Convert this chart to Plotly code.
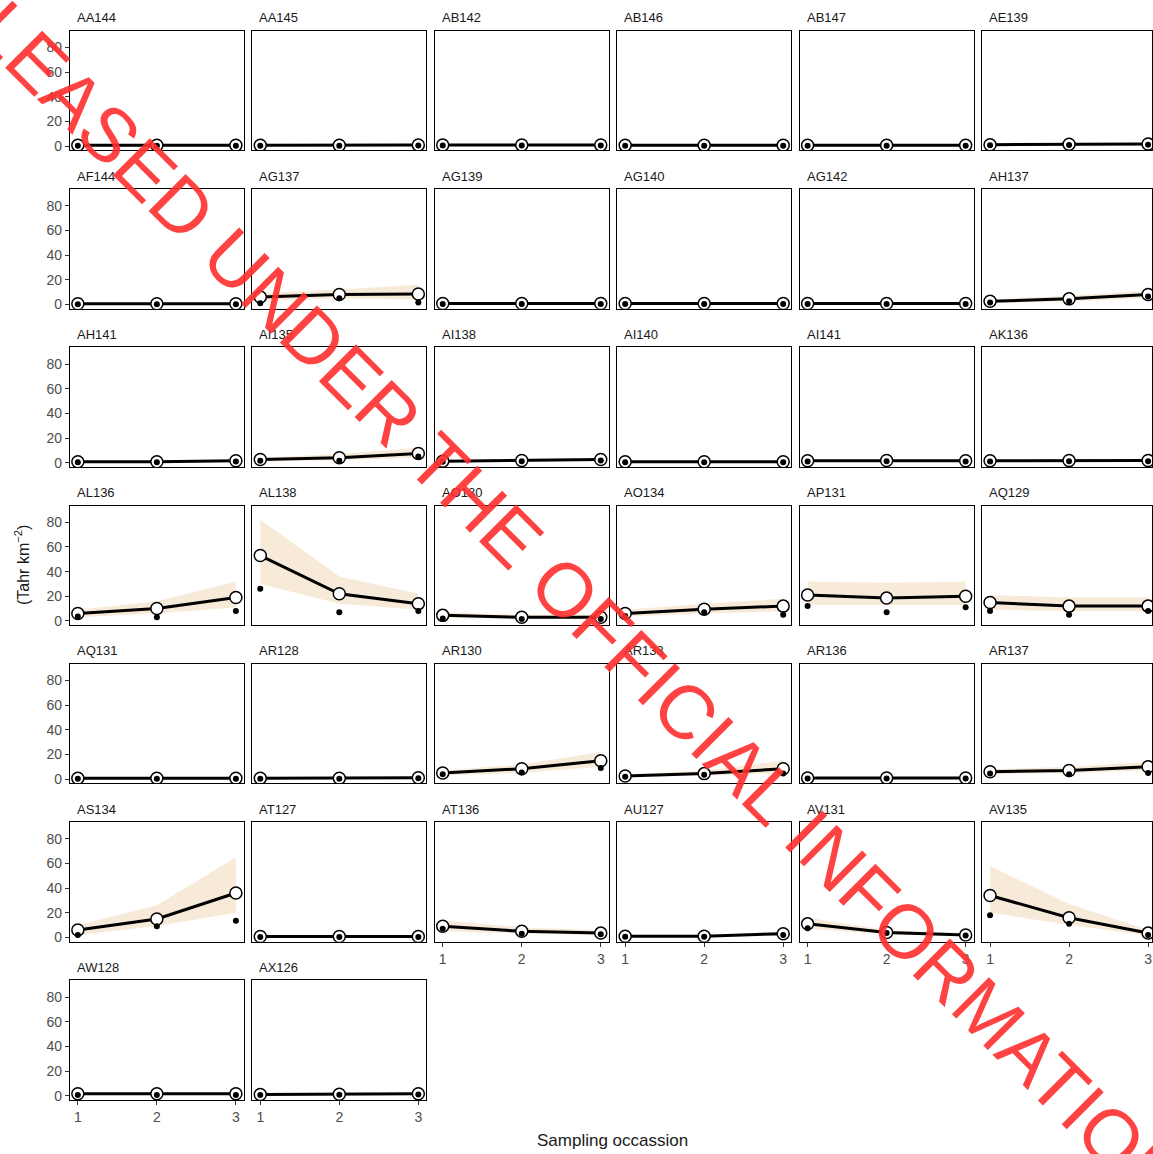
import plotly.graph_objects as go

# ---------------- data ----------------
SITES = ["AA144", "AA145", "AB142", "AB146", "AB147", "AE139",
         "AF144", "AG137", "AG139", "AG140", "AG142", "AH137",
         "AH141", "AI135", "AI138", "AI140", "AI141", "AK136",
         "AL136", "AL138", "AO130", "AO134", "AP131", "AQ129",
         "AQ131", "AR128", "AR130", "AR133", "AR136", "AR137",
         "AS134", "AT127", "AT136", "AU127", "AV131", "AV135",
         "AW128", "AX126"]

OCCASIONS = [1, 2, 3]

# estimated density (open circles)
EST = [[0.8, 0.8, 0.8], [0.8, 0.8, 1.0], [1.0, 1.0, 1.0], [0.8, 0.8, 0.8], [0.8, 0.8, 0.8], [1.2, 1.5, 1.8],
       [0.5, 0.5, 0.5], [6, 8, 8.5], [0.8, 0.8, 0.8], [0.8, 0.8, 0.8], [0.8, 0.8, 0.8], [2.5, 4.5, 8],
       [0.8, 0.8, 1.5], [2.5, 4, 7.5], [1.2, 1.8, 2.5], [0.8, 0.8, 0.8], [1.5, 1.8, 1.5], [1.5, 1.8, 1.8],
       [6, 10, 19], [53, 22, 14], [4.5, 3, 3], [6, 9.5, 12], [21, 18.5, 20], [15, 12, 12],
       [0.8, 0.8, 0.8], [0.8, 0.8, 1.2], [5, 8.5, 15], [2.5, 4.5, 8.5], [1, 1, 1], [6, 7, 10],
       [6, 15, 36], [0.8, 0.8, 0.8], [9, 5, 3.5], [1, 1, 3], [11, 4, 2], [34, 16, 3.5],
       [1.5, 1.5, 1.5], [1, 1.2, 1.5]]

# observed counts (small black dots)
OBS = [[0.3, 0.3, 0.3], [0.3, 0.3, 0.5], [0.5, 0.5, 0.5], [0.3, 0.3, 0.3], [0.3, 0.3, 0.3], [0.8, 1, 1.2],
       [0.2, 0.2, 0.2], [1, 5, 1.5], [0.3, 0.3, 0.3], [0.3, 0.3, 0.3], [0.3, 0.3, 0.3], [1.5, 2.5, 6.5],
       [0.4, 0.4, 1], [1.5, 1.5, 5], [0.8, 1.2, 1.8], [0.3, 0.3, 0.3], [1, 1.2, 1], [1, 1.2, 1.2],
       [3.5, 3, 8], [26, 7, 8], [2, 1.5, 1.5], [4, 7, 5], [12, 7, 11], [8, 5, 8],
       [0.3, 0.3, 0.3], [0.4, 0.4, 0.8], [4, 5.5, 9], [2, 3.5, 4.5], [0.5, 0.5, 0.5], [4.5, 4, 5],
       [2, 9, 13.5], [0.3, 0.3, 0.3], [7, 3, 2.5], [0.5, 0.5, 2], [7.5, 3.5, 1.5], [18, 11, 2],
       [0.5, 0.5, 0.5], [0.6, 0.8, 1]]

# credible interval (shaded band)
LO = [[0.2, 0.2, 0.2], [0.2, 0.2, 0.4], [0.4, 0.4, 0.4], [0.2, 0.2, 0.2], [0.2, 0.2, 0.2], [0.6, 0.8, 1.0],
      [0.1, 0.1, 0.1], [3, 5, 4], [0.2, 0.2, 0.2], [0.2, 0.2, 0.2], [0.2, 0.2, 0.2], [1, 2.5, 5],
      [0.3, 0.3, 0.8], [1, 2, 4], [0.6, 1, 1.5], [0.2, 0.2, 0.2], [0.8, 1, 0.8], [0.8, 1, 1],
      [3, 6, 11], [30, 14, 9], [2.5, 1.5, 1.5], [3.5, 6, 8], [13, 13, 13], [9, 8, 8],
      [0.2, 0.2, 0.2], [0.3, 0.3, 0.6], [3, 5, 10], [1.5, 3, 5], [0.5, 0.5, 0.5], [4, 5, 7],
      [2, 9, 20], [0.2, 0.2, 0.2], [5, 3, 2], [0.5, 0.5, 1.5], [7, 2.5, 1], [20, 10, 1.5],
      [0.8, 0.8, 0.8], [0.5, 0.6, 0.8]]
HI = [[1.5, 1.5, 1.5], [1.5, 1.5, 2], [2, 2, 2], [1.5, 1.5, 1.5], [1.5, 1.5, 1.5], [2.2, 2.6, 3],
      [1.0, 1.0, 1.0], [9, 12, 16], [1.5, 1.5, 1.5], [1.5, 1.5, 1.5], [1.5, 1.5, 1.5], [4, 7, 11],
      [1.5, 1.5, 2.5], [4, 7, 12], [2, 3, 4], [1.5, 1.5, 1.5], [2.5, 3, 2.5], [2.5, 3, 3],
      [9, 16, 32], [82, 36, 22], [7, 5, 5], [9, 14, 18], [32, 31, 32], [21, 19, 19],
      [1.5, 1.5, 1.5], [1.5, 1.5, 2], [7, 12, 22], [4, 7, 15], [2, 2, 2], [8, 10, 14],
      [10, 26, 65], [1.5, 1.5, 1.5], [14, 8, 6], [2, 2, 5], [16, 6, 3.5], [58, 27, 6],
      [2.5, 2.5, 2.5], [2, 2.2, 2.5]]

Y_TICKS = [0, 20, 40, 60, 80]
X_TICKS = [1, 2, 3]

X_TITLE = "Sampling occassion"
Y_TITLE = "(Tahr km<sup>\u22122</sup>)"
WATERMARK = "RELEASED UNDER THE OFFICIAL INFORMATION ACT"

# ---------------- layout geometry ----------------
W, H = 1153, 1154
NCOL = 6
PANEL_W = 174
PANEL_H = 120
COL_LEFT = [70 + i * 182.6 for i in range(NCOL)]
ROW_TOP = [31 + r * 158.8 for r in range(7)]
Y_RANGE = [-3.5, 93.5]
PX_PER_UNIT = PANEL_W / 2.2

FONT = "Liberation Sans, Arial, sans-serif"
BAND = "rgba(236,196,150,0.36)"

fig = go.Figure()

last_row = {}
for k in range(len(SITES)):
    r, c = divmod(k, NCOL)
    last_row[c] = r

annotations = []
for k, site in enumerate(SITES):
    r, c = divmod(k, NCOL)
    suf = "" if k == 0 else str(k + 1)
    xa, ya = "x" + suf, "y" + suf

    x0 = COL_LEFT[c]
    x1 = min(x0 + PANEL_W, W)
    top = ROW_TOP[r]

    fig.add_trace(go.Scatter(
        x=OCCASIONS + OCCASIONS[::-1], y=HI[k] + LO[k][::-1],
        fill="toself", fillcolor=BAND, line=dict(width=0), mode="lines",
        xaxis=xa, yaxis=ya, hoverinfo="skip", showlegend=False))
    fig.add_trace(go.Scatter(
        x=OCCASIONS, y=EST[k], mode="lines+markers",
        line=dict(color="black", width=3),
        marker=dict(size=12, color="white", line=dict(color="black", width=1.5)),
        xaxis=xa, yaxis=ya, showlegend=False))
    fig.add_trace(go.Scatter(
        x=OCCASIONS, y=OBS[k], mode="markers",
        marker=dict(size=6, color="black"),
        xaxis=xa, yaxis=ya, showlegend=False))

    is_bottom = (r == last_row[c])
    fig.layout["xaxis" + suf] = dict(
        domain=[x0 / W, x1 / W], range=[0.9, 0.9 + (x1 - x0) / PX_PER_UNIT],
        anchor=ya, showline=True, mirror=True, linecolor="black", linewidth=1.3,
        showgrid=False, zeroline=False, tickvals=X_TICKS,
        showticklabels=is_bottom, ticks="outside" if is_bottom else "",
        ticklen=4, tickcolor="#333333",
        tickfont=dict(size=14, color="#4d4d4d", family=FONT))
    fig.layout["yaxis" + suf] = dict(
        domain=[1 - (top + PANEL_H) / H, 1 - top / H], range=Y_RANGE,
        anchor=xa, showline=True, mirror=True, linecolor="black", linewidth=1.3,
        showgrid=False, zeroline=False, tickvals=Y_TICKS,
        showticklabels=(c == 0), ticks="outside" if c == 0 else "",
        ticklen=4, tickcolor="#333333",
        tickfont=dict(size=14, color="#4d4d4d", family=FONT))

    annotations.append(dict(
        text=site, x=(x0 + 5) / W, y=1 - (top - 13) / H, xref="paper", yref="paper",
        xanchor="left", yanchor="middle", showarrow=False,
        font=dict(size=13, color="#1a1a1a", family=FONT)))

annotations.append(dict(
    text=Y_TITLE, x=22 / W, y=1 - 567 / H, xref="paper", yref="paper",
    textangle=-90, showarrow=False, xanchor="center", yanchor="middle",
    font=dict(size=16, color="#1a1a1a", family=FONT)))
annotations.append(dict(
    text=X_TITLE, x=613 / W, y=1 - 1144 / H, xref="paper", yref="paper",
    showarrow=False, xanchor="center", yanchor="middle",
    font=dict(size=17, color="#1a1a1a", family=FONT)))
annotations.append(dict(
    text=WATERMARK, x=603 / W, y=1 - 630 / H, xref="paper", yref="paper",
    textangle=45, showarrow=False, xanchor="center", yanchor="middle",
    font=dict(size=76, color="rgba(255,45,45,0.9)", family=FONT)))

fig.update_layout(
    width=W, height=H, margin=dict(l=0, r=0, t=0, b=0),
    paper_bgcolor="white", plot_bgcolor="white",
    annotations=annotations, showlegend=False)

fig.write_html("out.html")
